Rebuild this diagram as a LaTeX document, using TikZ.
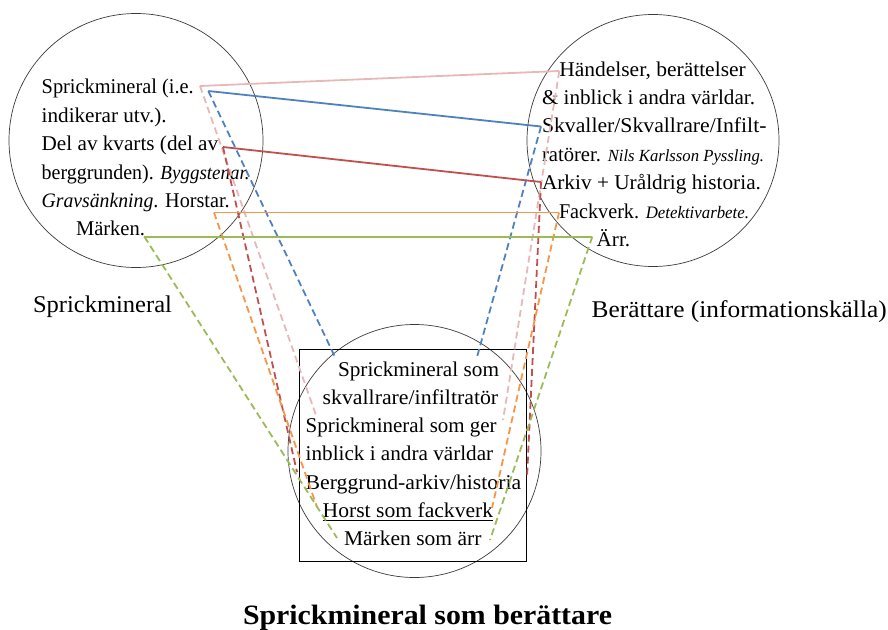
\documentclass[tikz,border=0pt]{standalone}
\usepackage{fontspec}
\setmainfont{Liberation Serif}
\usepackage{graphicx}

% Office-style palette for the five links
\definecolor{linkpink}{HTML}{E6B9B8}
\definecolor{linkblue}{HTML}{4F81BD}
\definecolor{linkred}{HTML}{C0504D}
\definecolor{linkorange}{HTML}{F79646}
\definecolor{linkgreen}{HTML}{9BBB59}
\definecolor{ringgray}{HTML}{3A3A3A}

% set a text line to a given width, keeping its height
\newcommand{\fitw}[2]{\resizebox{#1pt}{\height}{#2}}
% italic run at its own size
\newcommand{\itrun}[2]{{\fontsize{#1}{#1}\selectfont\itshape #2}}

\begin{document}
\begin{tikzpicture}[x=1pt,y=-1pt,
  bubble/.style={circle, draw=ringgray, line width=0.7pt, minimum size=#1, inner sep=0pt},
  body/.style={anchor=base west, inner sep=0pt, outer sep=0pt, font=\fontsize{21}{25}\selectfont},
  sidecap/.style={anchor=base west, inner sep=0pt, outer sep=0pt, font=\fontsize{24}{28}\selectfont},
  headline/.style={anchor=base west, inner sep=0pt, outer sep=0pt, font=\fontsize{28}{32}\selectfont\bfseries},
  link/.style={line width=1.8pt},
  drop/.style={line width=1.8pt, dash pattern=on 7pt off 4pt}]
\useasboundingbox (0,0) rectangle (888,629);

% the three circles and the frame
\node[bubble=254pt] (mineral) at (136,140.5) {};
\node[bubble=252pt] (teller) at (653,140.5) {};
\node[bubble=253pt] (merge) at (414.5,451) {};
\node[draw=black, line width=0.8pt, minimum width=227pt, minimum height=212pt, inner sep=0pt] (frame) at (412.5,455) {};

% left circle
\node[body] (m1) at (41.7,93.5) {\fitw{152}{Sprickmineral (i.e.}};
\node[body] (m2) at (41.7,122) {\fitw{125}{indikerar utv.).}};
\node[body] (m3) at (41.7,150.5) {\fitw{176.5}{Del av kvarts (del av}};
\node[body] (m4) at (41.7,179) {\fitw{208}{berggrunden). \itrun{20}{Byggstenar.}}};
\node[body] (m5) at (41.7,207.5) {\fitw{188}{\itrun{20.5}{Gravsänkning}. Horstar.}};
\node[body] (m6) at (76,235.5) {\fitw{69}{Märken.}};

% right circle
\node[body] (t1) at (559.3,76) {\fitw{186.5}{Händelser, berättelser}};
\node[body] (t2) at (542,104.4) {\fitw{213}{\& inblick i andra världar.}};
\node[body] (t3) at (542,132.8) {\fitw{224.5}{Skvaller/Skvallrare/Infilt-}};
\node[body] (t4) at (542,161.2) {\fitw{222}{ratörer. \itrun{17}{Nils Karlsson Pyssling.}}};
\node[body] (t5) at (542,189.6) {\fitw{219}{Arkiv + Uråldrig historia.}};
\node[body] (t6) at (559,218) {\fitw{190}{Fackverk. \itrun{17.5}{Detektivarbete.}}};
\node[body] (t7) at (596.7,246.4) {\fitw{33.5}{Ärr.}};

% bottom circle
\node[body] (c1) at (338,376) {\fitw{161}{Sprickmineral som}};
\node[body] (c2) at (322.7,404.3) {\fitw{175.5}{skvallrare/infiltratör}};
\node[body] (c3) at (305.7,432.6) {\fitw{191}{Sprickmineral som ger}};
\node[body] (c4) at (305.7,460.9) {\fitw{187.5}{inblick i andra världar}};
\node[body] (c5) at (305.7,489.2) {\fitw{215.5}{Berggrund-arkiv/historia}};
\node[body] (c6) at (322.7,517.5) {\fitw{170.5}{Horst som fackverk}};
\node[body] (c7) at (344,545.8) {\fitw{137.5}{Märken som ärr}};
\draw[line width=0.9pt] ([yshift=-3.3pt]c6.base west) -- ([yshift=-3.3pt]c6.base east);

% captions
\node[sidecap] (capl) at (33,312.5) {\fitw{139}{Sprickmineral}};
\node[sidecap] (capr) at (591.7,317) {\fitw{295}{Berättare (informationskälla)}};
\node[headline] (title) at (243,624) {\fitw{369}{Sprickmineral som berättare}};

% link end points
\coordinate (pL) at (200,86);    \coordinate (pR) at (559.3,71);
\coordinate (pBL) at (317,418);  \coordinate (pBR) at (503,420);
\coordinate (bL) at (208.3,91);  \coordinate (bR) at (541,126.5);
\coordinate (bBL) at (335,357);  \coordinate (bBR) at (477,357);
\coordinate (rL) at (223,147);   \coordinate (rR) at (541,182);
\coordinate (rBL) at (297,472);  \coordinate (rBR) at (527,478);
\coordinate (oL) at (214,212.5); \coordinate (oR) at (559,212.5);
\coordinate (oBL) at (317,507);  \coordinate (oBR) at (492,508);
\coordinate (gL) at (144.3,236.6); \coordinate (gR) at (592.3,236.6);
\coordinate (gBL) at (337,538);  \coordinate (gBR) at (490,540);

% links: solid across, dashed down into the merged circle
\foreach \k/\c in {p/linkpink, b/linkblue, r/linkred, o/linkorange, g/linkgreen}{
  \draw[link, draw=\c] (\k L) -- (\k R);
  \draw[drop, draw=\c] (\k L) -- (\k BL);
  \draw[drop, draw=\c] (\k R) -- (\k BR);
}
\end{tikzpicture}
\end{document}
